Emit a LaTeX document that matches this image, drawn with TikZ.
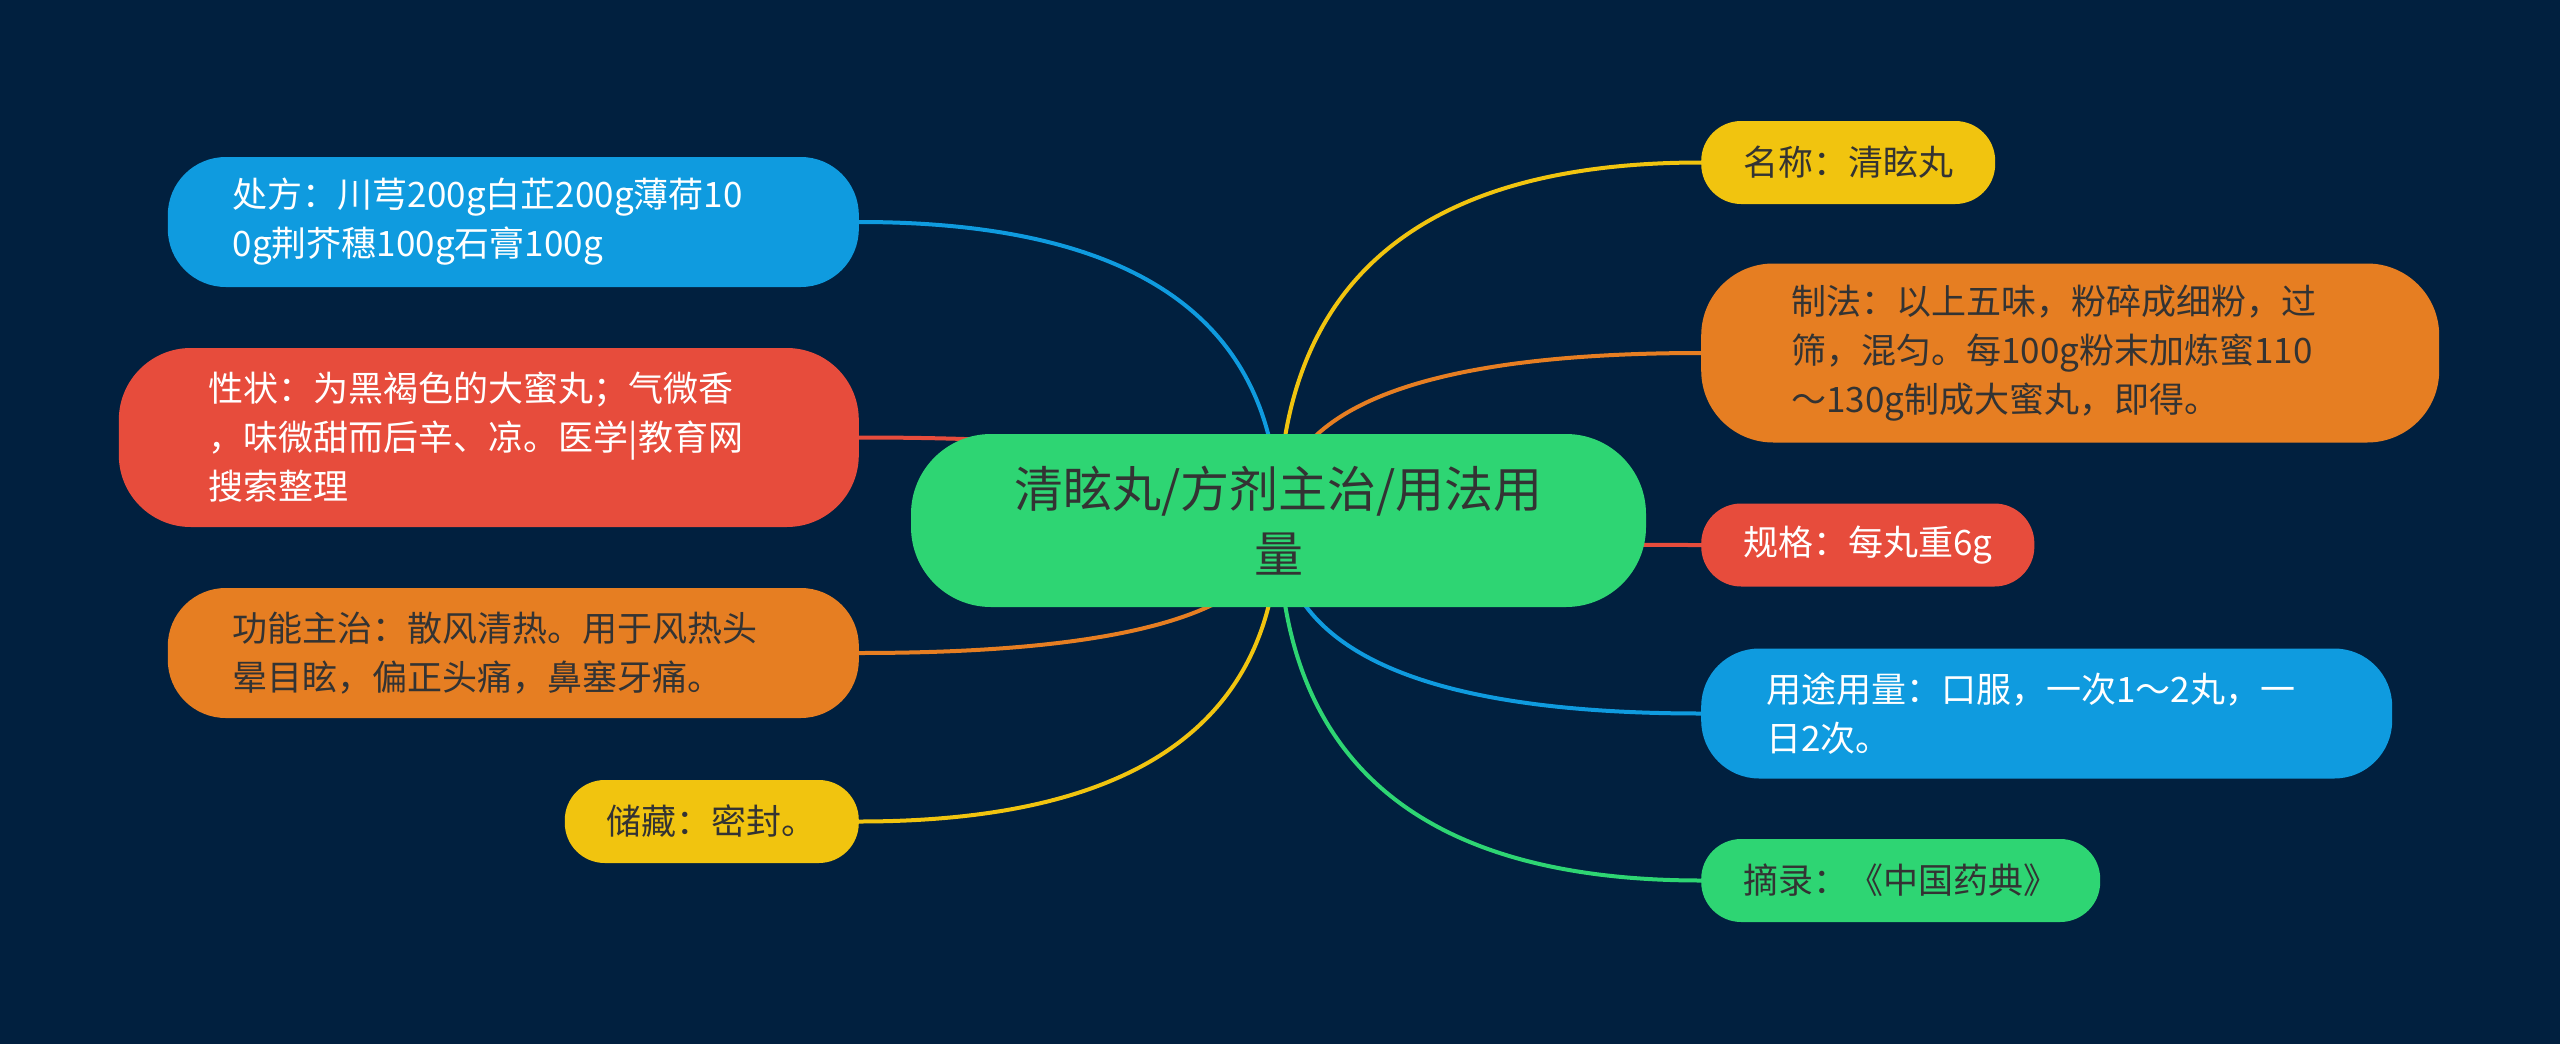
\documentclass[tikz,border=0pt]{standalone}
\usepackage{fontspec}
\newfontfamily\cjk{Noto Sans CJK SC}
\usetikzlibrary{calc}
\definecolor{navy}{HTML}{01203F}
\definecolor{cblue}{HTML}{0F9BDF}
\definecolor{cred}{HTML}{E74C3C}
\definecolor{corange}{HTML}{E67E22}
\definecolor{cyellow}{HTML}{F1C40F}
\definecolor{cgreen}{HTML}{2ED573}
\definecolor{ink}{HTML}{333333}
\pgfdeclarelayer{back}
\pgfdeclarelayer{links}
\pgfsetlayers{back,links,main}

\begin{document}
\begin{tikzpicture}[
  x=1pt, y=-1pt,
  pill/.style={align=left, inner ysep=0pt, font=\cjk\fontsize{35}{49}\selectfont},
  one/.style={pill, rounded corners=40pt, minimum height=83pt, inner xsep=42pt},
  two/.style={pill, rounded corners=58pt, minimum height=130pt, inner xsep=65pt, text width=561pt},
  three/.style={pill, rounded corners=72pt, minimum height=179pt, inner xsep=90pt, text width=560pt},
  hub/.style={align=center, rounded corners=80pt, minimum width=735pt, minimum height=173pt,
    inner sep=0pt, fill=cgreen, text=ink, font=\cjk\fontsize{49}{65}\selectfont},
  lnk/.style={line width=4pt}
]
\begin{pgfonlayer}{back}
\fill[navy] (0,0) rectangle (2560,1044);
\end{pgfonlayer}
\useasboundingbox (0,0) rectangle (2560,1044);

\node[hub] (root) at (1278.5,520.5) {清眩丸/方剂主治/用法用\\量};

% left side
\node[two, anchor=east, fill=cblue, text=white] (recipe) at (859,222)
  {处方：川芎200g白芷200g薄荷10\\0g荆芥穗100g石膏100g};
\node[three, anchor=east, fill=cred, text=white] (looks) at (859,437.5)
  {性状：为黑褐色的大蜜丸；气微香\\，味微甜而后辛、凉。医学|教育网\\搜索整理};
\node[two, anchor=east, fill=corange, text=ink] (uses) at (859,653)
  {功能主治：散风清热。用于风热头\\晕目眩，偏正头痛，鼻塞牙痛。};
\node[one, anchor=east, fill=cyellow, text=ink] (store) at (859,821.5) {储藏：密封。};

% right side
\node[one, anchor=west, fill=cyellow, text=ink] (name) at (1701,162.5) {名称：清眩丸};
\node[three, anchor=west, fill=corange, text=ink, text width=558pt] (make) at (1701,353)
  {制法：以上五味，粉碎成细粉，过\\筛，混匀。每100g粉末加炼蜜110\\～130g制成大蜜丸，即得。};
\node[one, anchor=west, fill=cred, text=white] (spec) at (1701,545) {规格：每丸重6g};
\node[two, anchor=west, fill=cblue, text=white] (dose) at (1701,713.5)
  {用途用量：口服，一次1～2丸，一\\日2次。};
\node[one, anchor=west, fill=cgreen, text=ink] (src) at (1701,880.5) {摘录：《中国药典》};

\begin{pgfonlayer}{links}
\foreach \n/\c in {recipe/cblue, looks/cred, uses/corange, store/cyellow}
  \draw[lnk, \c] (root.center)
    .. controls ($(root.center)!0.667!(root.center |- \n.east)$)
    and ($(\n.east)!0.667!(root.center |- \n.east)$) .. (\n.east);
\foreach \n/\c in {name/cyellow, make/corange, spec/cred, dose/cblue, src/cgreen}
  \draw[lnk, \c] (root.center)
    .. controls ($(root.center)!0.667!(root.center |- \n.west)$)
    and ($(\n.west)!0.667!(root.center |- \n.west)$) .. (\n.west);
\end{pgfonlayer}
\end{tikzpicture}
\end{document}
